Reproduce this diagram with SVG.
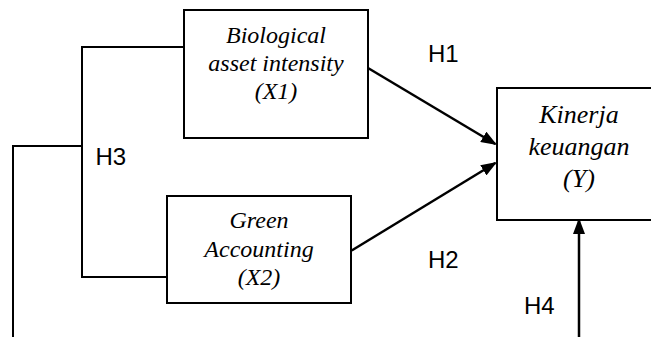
<svg xmlns="http://www.w3.org/2000/svg" width="651" height="337" viewBox="0 0 651 337">
<style>
.box{fill:#fff;stroke:#000;stroke-width:2}
.ln{fill:none;stroke:#000;stroke-width:2}
.ar{fill:none;stroke:#000;stroke-width:2.5}
.t{font-family:"Liberation Serif","Times New Roman",serif;font-style:italic;font-size:24px;text-anchor:middle;fill:#000}
.ty{font-size:26px}
.h{font-family:"Liberation Sans",Arial,sans-serif;font-size:24px;fill:#000}
</style>
<defs>
<marker id="ah" markerUnits="userSpaceOnUse" markerWidth="16" markerHeight="12" refX="14" refY="6" orient="auto">
<path d="M0,0 L16,6 L0,12 z" fill="#000"/>
</marker>
</defs>
<g id="connectors">
<polyline class="ln" points="184,47 82,47 82,277 167,277"/>
<polyline class="ln" points="82,146 13,146 13,337"/>
<line class="ar" x1="368" y1="68" x2="495.3" y2="144" marker-end="url(#ah)"/>
<line class="ar" x1="351.7" y1="250.5" x2="495.3" y2="163" marker-end="url(#ah)"/>
<line class="ar" x1="579" y1="337" x2="579" y2="220" marker-end="url(#ah)"/>
</g>
<g id="labels">
<text class="h" x="428" y="62">H1</text>
<text class="h" x="95.5" y="165">H3</text>
<text class="h" x="428" y="268">H2</text>
<text class="h" x="524" y="314">H4</text>
</g>
<g id="x1">
<rect class="box" x="184" y="10" width="184" height="128"/>
<text class="t" x="276" y="42.7">Biological</text>
<text class="t" x="276" y="71">asset intensity</text>
<text class="t" x="276" y="99.3">(X1)</text>
</g>
<g id="x2">
<rect class="box" x="167" y="196" width="184" height="107"/>
<text class="t" x="259" y="228">Green</text>
<text class="t" x="259" y="257">Accounting</text>
<text class="t" x="259" y="285">(X2)</text>
</g>
<g id="y">
<rect class="box" x="497" y="88" width="170" height="132"/>
<text class="t ty" x="579" y="123.3">Kinerja</text>
<text class="t ty" x="579" y="155">keuangan</text>
<text class="t ty" x="579" y="186.7">(Y)</text>
</g>
</svg>
